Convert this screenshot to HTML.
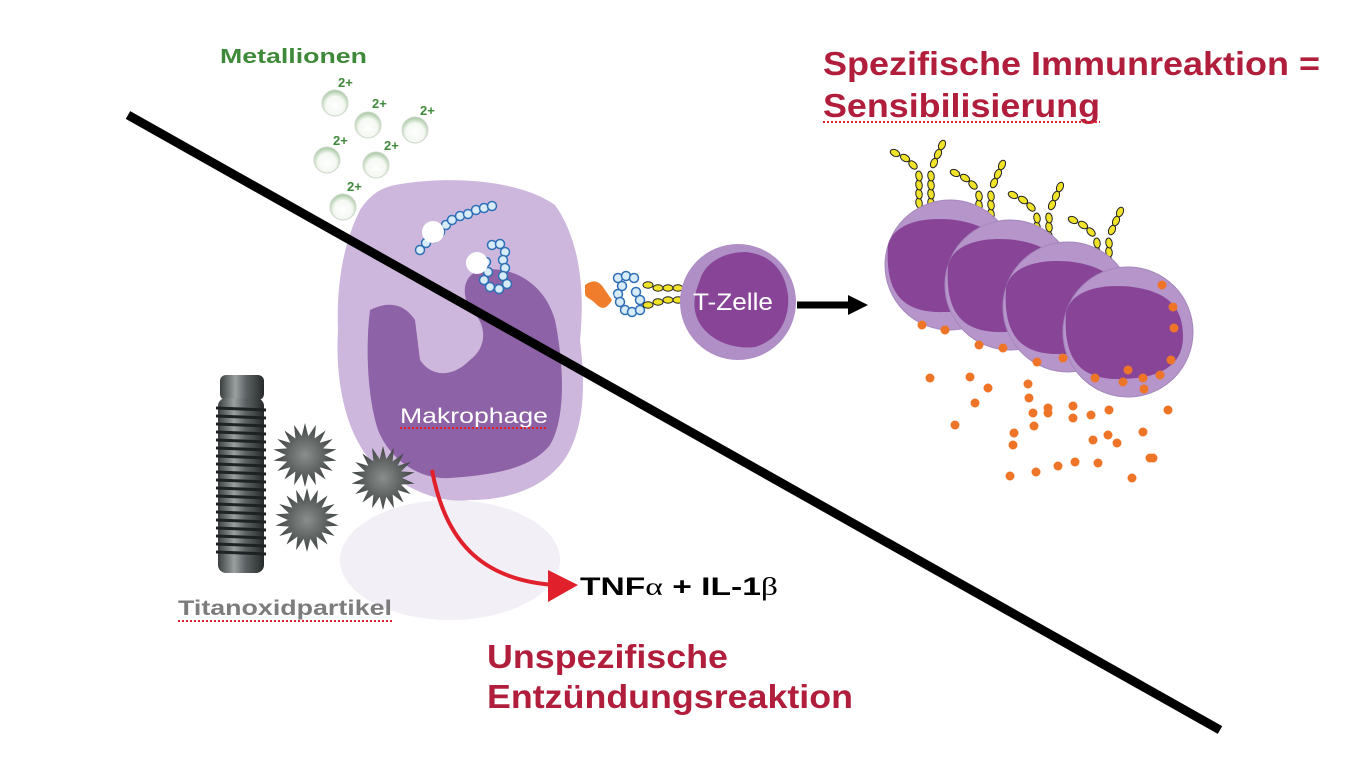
<!DOCTYPE html>
<html><head><meta charset="utf-8"><style>
html,body{margin:0;padding:0;background:#fff;}
svg{display:block;}
text{font-family:"Liberation Sans",Arial,sans-serif;}
</style></head><body>
<svg id="s" width="1362" height="784" viewBox="0 0 1362 784" xmlns="http://www.w3.org/2000/svg">
<defs>
<radialGradient id="ball" cx="0.5" cy="0.6" r="0.6"><stop offset="0" stop-color="#fff"/><stop offset="0.6" stop-color="#f4f8f2"/><stop offset="1" stop-color="#9fc49a"/></radialGradient>
<radialGradient id="spk" cx="0.5" cy="0.5" r="0.5"><stop offset="0" stop-color="#8a8f8e"/><stop offset="1" stop-color="#3f4443"/></radialGradient>
<linearGradient id="imp" x1="0" x2="1"><stop offset="0" stop-color="#3a3f40"/><stop offset="0.35" stop-color="#9aa0a0"/><stop offset="0.6" stop-color="#5c6263"/><stop offset="1" stop-color="#262a2b"/></linearGradient>
</defs>
<ellipse cx="450" cy="560" rx="110" ry="60" fill="#f3eff6"/>
<path d="M395 185 C450 175 520 180 555 205 C580 240 585 290 580 340 C585 380 585 420 570 450 C555 480 520 500 470 500 C430 505 395 480 370 460 C345 430 335 380 338 330 C336 280 345 240 360 210 C370 195 380 188 395 185 Z" fill="#cdb7dd"/>
<path d="M370 310 C390 300 405 305 415 320 L420 360 C430 375 450 380 470 360 C490 345 485 320 470 310 C460 290 465 275 480 270 C515 265 545 285 555 320 C565 370 565 420 550 445 C530 470 490 475 450 478 C420 480 390 460 378 430 C368 400 365 350 370 310 Z" fill="#8e62a6"/>
<g id="chains" fill="#d8ecf8" stroke="#2f6fb5" stroke-width="1.5"></g>
<circle cx="738" cy="302" r="58" fill="#b08fc6"/>
<path d="M700 280 C705 262 725 252 745 252 C770 254 785 270 788 295 C790 320 778 340 755 347 C730 350 705 338 697 318 C692 305 695 292 700 280 Z" fill="#884597"/>
<text x="693" y="310" font-size="24" fill="#fff" textLength="80" lengthAdjust="spacingAndGlyphs">T-Zelle</text>
<path d="M585 285 C595 278 600 282 605 290 L612 300 C605 312 600 308 595 303 C590 298 585 298 585 293 Z" fill="#ef7d2c"/>
<line x1="797" y1="305" x2="850" y2="305" stroke="#000" stroke-width="7"/>
<polygon points="848,295 868,305 848,315" fill="#000"/>
<g id="plasma"></g>
<g id="dots" fill="#ee7428"></g>
<rect x="220" y="375" width="44" height="25" rx="6" fill="url(#imp)"/>
<rect x="218" y="398" width="46" height="175" rx="8" fill="url(#imp)"/>
<g id="threads" stroke="#1e2223" stroke-width="3"></g>
<g id="stars"></g>
<g id="ions"></g>
<path d="M432 470 C445 540 480 580 555 585" fill="none" stroke="#e0202a" stroke-width="4"/>
<polygon points="548,570 578,585 548,602" fill="#e0202a"/>
<line x1="128" y1="115" x2="1220" y2="730" stroke="#000" stroke-width="9"/>
<text x="400" y="423" font-size="21" fill="#fff" textLength="148" lengthAdjust="spacingAndGlyphs">Makrophage</text>
<line x1="400" y1="428" x2="548" y2="428" stroke="#e0202a" stroke-width="2" stroke-dasharray="2,2"/>
<text x="220" y="63" font-size="20" font-weight="bold" fill="#3f8a3a" textLength="147" lengthAdjust="spacingAndGlyphs">Metallionen</text>
<text x="823" y="75" font-size="33" font-weight="bold" fill="#b01e3c" textLength="497" lengthAdjust="spacingAndGlyphs">Spezifische Immunreaktion =</text>
<text x="823" y="117" font-size="33" font-weight="bold" fill="#b01e3c" textLength="277" lengthAdjust="spacingAndGlyphs">Sensibilisierung</text>
<line x1="823" y1="122" x2="1100" y2="122" stroke="#e0202a" stroke-width="2" stroke-dasharray="2,2"/>
<text x="580" y="595" font-size="25" font-weight="bold" fill="#000" textLength="198" lengthAdjust="spacingAndGlyphs">TNF<tspan font-weight="normal" font-family="Liberation Serif">α</tspan> + IL-1<tspan font-weight="normal" font-family="Liberation Serif">β</tspan></text>
<text x="487" y="668" font-size="33" font-weight="bold" fill="#b01e3c" textLength="241" lengthAdjust="spacingAndGlyphs">Unspezifische</text>
<text x="487" y="708" font-size="33" font-weight="bold" fill="#b01e3c" textLength="366" lengthAdjust="spacingAndGlyphs">Entzündungsreaktion</text>
<text x="178" y="615" font-size="21" font-weight="bold" fill="#7c7c7c" textLength="214" lengthAdjust="spacingAndGlyphs">Titanoxidpartikel</text>
<line x1="178" y1="621" x2="392" y2="621" stroke="#e0202a" stroke-width="2" stroke-dasharray="2,2"/>
</svg>
<script>
var NS="http://www.w3.org/2000/svg";
function el(p,t,a){var e=document.createElementNS(NS,t);for(var k in a)e.setAttribute(k,a[k]);document.getElementById(p).appendChild(e);return e;}
[[305,455,32],[383,478,32],[307,520,32]].forEach(function(s){var pts=[];for(var i=0;i<36;i++){var r=i%2?s[2]:s[2]*0.6;var a=i*Math.PI/18;pts.push((s[0]+r*Math.cos(a)).toFixed(1)+","+(s[1]+r*Math.sin(a)).toFixed(1));}el("stars","polygon",{points:pts.join(" "),fill:"url(#spk)"});});
for(var y=408;y<560;y+=8)el("threads","line",{x1:216,y1:y,x2:266,y2:y+2});
[[335,103],[368,125],[415,130],[327,160],[376,165],[343,207]].forEach(function(b){el("ions","circle",{cx:b[0],cy:b[1],r:13,fill:"url(#ball)",stroke:"#cfd8cc","stroke-width":1});});
[[338,87],[372,108],[420,115],[333,145],[384,150],[347,191]].forEach(function(t){var e=el("ions","text",{x:t[0],y:t[1],"font-size":13,"font-weight":"bold",fill:"#3f8a3a"});e.textContent="2+";});
var c1=[[420,250],[426,243],[434,238],[440,232],[446,225],[452,220],[460,216],[468,214],[476,210],[484,208],[492,206]];
var c2=[[492,245],[500,244],[505,252],[503,260],[505,268],[503,276],[507,284],[499,289],[490,287],[484,280],[488,272],[486,262]];
var c3=[[618,278],[626,276],[634,278],[622,286],[618,294],[620,302],[625,310],[632,312],[640,310],[640,300],[636,292]];
c1.concat(c2,c3).forEach(function(p){el("chains","circle",{cx:p[0],cy:p[1],r:4.5});});
el("chains","circle",{cx:433,cy:232,r:11,fill:"#fff",stroke:"none"});
el("chains","circle",{cx:477,cy:263,r:11,fill:"#fff",stroke:"none"});
el("chains","circle",{cx:606,cy:298,r:8,fill:"#fff",stroke:"none"});
function yel(p,x,y,rot){el(p,"ellipse",{cx:x,cy:y,rx:5,ry:3.2,fill:"#f0e32a",stroke:"#222","stroke-width":1,transform:"rotate("+rot+" "+x+" "+y+")"});}
[[648,285],[658,288],[668,288],[678,288],[648,305],[658,302],[668,300],[678,300]].forEach(function(p){yel("chains",p[0],p[1],0);});
var cells=[[950,265],[1010,285],[1068,307],[1128,332]];
cells.forEach(function(c){
 var x=c[0],y=c[1];
 var bx=x-25,by=y-62;
 // stems
 for(var k=0;k<4;k++){yel("plasma",bx-6,by-k*9,80);yel("plasma",bx+6,by-k*9,80);}
 // left arm up-left
 yel("plasma",bx-12,by-38,45);yel("plasma",bx-20,by-45,30);yel("plasma",bx-30,by-50,25);
 // right arm up
 yel("plasma",bx+9,by-40,-65);yel("plasma",bx+13,by-49,-65);yel("plasma",bx+17,by-58,-65);
});
cells.forEach(function(c){
 var x=c[0],y=c[1];
 el("plasma","circle",{cx:x,cy:y,r:65,fill:"#b695cb",stroke:"#a487bb","stroke-width":1});
 el("plasma","path",{d:"M"+(x-62)+" "+(y-20)+" C"+(x-55)+" "+(y-45)+" "+(x-20)+" "+(y-48)+" "+(x+5)+" "+(y-45)+" C"+(x+40)+" "+(y-40)+" "+(x+55)+" "+(y-25)+" "+(x+55)+" "+(y+5)+" C"+(x+55)+" "+(y+40)+" "+(x+20)+" "+(y+48)+" "+(x-15)+" "+(y+47)+" C"+(x-50)+" "+(y+45)+" "+(x-65)+" "+(y+25)+" "+(x-62)+" "+(y-20)+" Z",fill:"#884597"});
});
var D=[[922,325],[945,330],[979,345],[1003,348],[1037,362],[1063,358],[1095,378],[1123,382],[1143,378],[1162,285],[1173,307],[1174,328],[1171,360],[1160,375],[1128,370],[1144,389],[930,378],[970,377],[988,388],[975,403],[955,425],[1028,384],[1029,398],[1033,413],[1034,426],[1048,413],[1048,408],[1073,406],[1073,418],[1091,415],[1109,410],[1168,410],[1014,433],[1013,445],[1093,440],[1108,435],[1117,443],[1150,458],[1143,432],[1010,476],[1036,472],[1058,466],[1075,462],[1098,463],[1132,478],[1153,458]];
D.forEach(function(p){el("dots","circle",{cx:p[0],cy:p[1],r:4.5});});
</script>
</body></html>
